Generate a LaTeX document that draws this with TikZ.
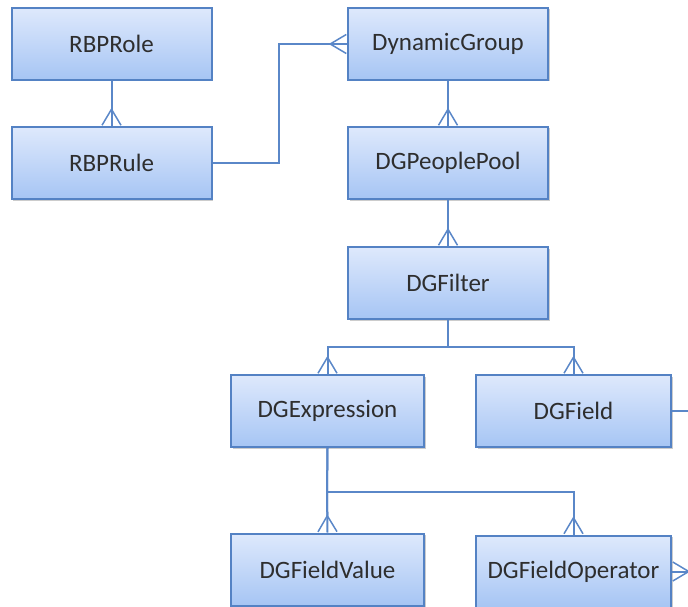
\documentclass[tikz,border=0pt]{standalone}
\usepackage{fontspec}
\setmainfont{Carlito}
\usetikzlibrary{arrows.meta,shadows}
\definecolor{boxline}{RGB}{84,130,196}
\definecolor{boxtop}{RGB}{222,233,252}
\definecolor{boxbottom}{RGB}{166,197,244}
\definecolor{relline}{RGB}{90,135,200}
\begin{document}
\begin{tikzpicture}[x=1pt,y=-1pt,
entity/.style={draw=boxline,line width=2pt,top color=boxtop,bottom color=boxbottom,
  minimum width=200pt,minimum height=72pt,inner sep=0pt,text=black!82,
  font=\fontsize{25}{29}\selectfont,
  drop shadow={shadow xshift=1.5pt,shadow yshift=-1.5pt,fill=black!40}},
rel/.style={draw=relline,line width=2pt},
crow/.style={-{Straight Barb[reversed,length=16pt,width=19pt,line width=1.5pt]},
  postaction={draw=relline,line width=2pt,-}}]
\useasboundingbox (0,0) rectangle (688,607);

%RBP side
\node[entity] (rbprole) at (111.5,44){RBPRole};
\node[entity] (rbprule) at (111.5,163){RBPRule};

%Dynamic group column
\node[entity] (dyngroup) at (448,44){DynamicGroup};
\node[entity] (peoplepool) at (448,163){DGPeoplePool};
\node[entity] (filter) at (448,283){DGFilter};

%Filter children
\node[entity,minimum width=193pt] (expression) at (327.5,411){DGExpression};
\node[entity,minimum width=195pt] (field) at (573.5,411){DGField};

%Expression children
\node[entity,minimum width=193pt] (fieldvalue) at (327.5,569.5){DGFieldValue};
\node[entity,minimum width=195pt] (fieldoperator) at (573.5,571.5){DGFieldOperator};

%Joints
\coordinate (jog) at (279,0);
\coordinate (split) at (448,347);
\coordinate (splitexpr) at (327,492);
\coordinate (fieldout) at (688,411);
\coordinate (operatorin) at (688,571.5);

\draw[rel,crow] (rbprole.south) -- (rbprule.north);
\draw[rel,crow] (rbprule.east) -| (jog |- dyngroup.west) -- (dyngroup.west);
\draw[rel,crow] (dyngroup.south) -- (peoplepool.north);
\draw[rel,crow] (peoplepool.south) -- (filter.north);
\draw[rel,crow] (filter.south) -- (split) -| (expression.north);
\draw[rel,crow] (split) -| (field.north);
\draw[rel,crow] (expression.south) -- (splitexpr) -- (fieldvalue.north);
\draw[rel,crow] (splitexpr) -| (fieldoperator.north);
\draw[rel] (field.east) -- (fieldout);
\draw[rel,crow] (operatorin) -- (fieldoperator.east);

\end{tikzpicture}
\end{document}
